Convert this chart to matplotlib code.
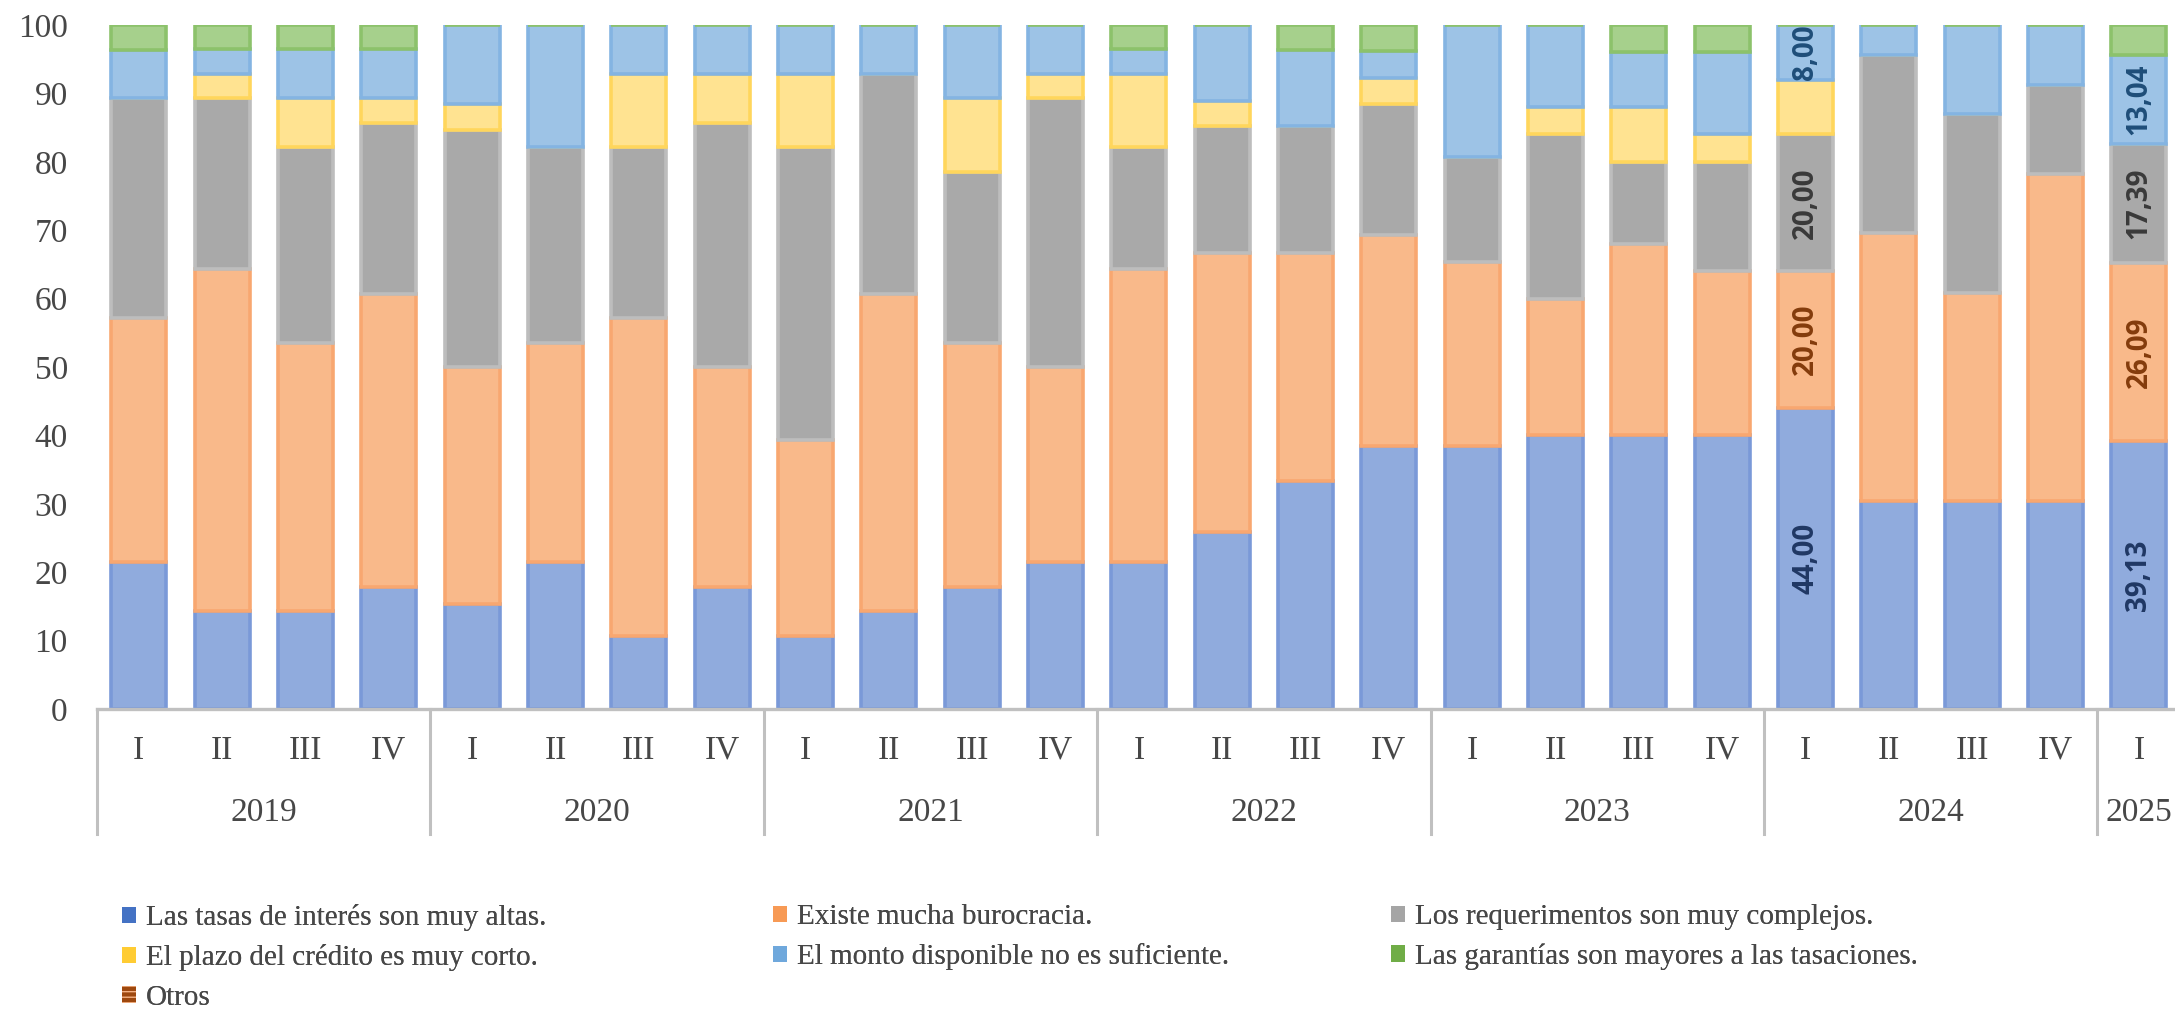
# %% stacked bars: reasons firms give for not asking for credit
import numpy as np
import matplotlib.pyplot as plt
from matplotlib.patches import Patch
from matplotlib.transforms import blended_transform_factory

# %% data (percent of answers per quarter)
years = ["2019", "2020", "2021", "2022", "2023", "2024", "2025"]
year_counts = [4, 4, 4, 4, 4, 4, 1]
quarters = ["I", "II", "III", "IV"] * 6 + ["I"]

tasas = [21.43, 14.29, 14.29, 17.86, 15.38, 21.43, 10.71, 17.86, 10.71, 14.29, 17.86, 21.43, 21.43,
         25.93, 33.33, 38.46, 38.46, 40.00, 40.00, 40.00, 44.00, 30.43, 30.43, 30.43, 39.13]
burocracia = [35.71, 50.00, 39.29, 42.86, 34.62, 32.14, 46.43, 32.14, 28.57, 46.43, 35.71, 28.57, 42.86,
              40.74, 33.33, 30.77, 26.92, 20.00, 28.00, 24.00, 20.00, 39.13, 30.43, 47.83, 26.09]
requerimientos = [32.14, 25.00, 28.57, 25.00, 34.62, 28.57, 25.00, 35.71, 42.86, 32.14, 25.00, 39.29, 17.86,
                  18.52, 18.52, 19.23, 15.38, 24.00, 12.00, 16.00, 20.00, 26.09, 26.09, 13.04, 17.39]
plazo = [0, 3.57, 7.14, 3.57, 3.85, 0, 10.71, 7.14, 10.71, 0, 10.71, 3.57, 10.71,
         3.70, 0, 3.85, 0, 4.00, 8.00, 4.00, 8.00, 0, 0, 0, 0]
monto = [7.14, 3.57, 7.14, 7.14, 11.54, 17.86, 7.14, 7.14, 7.14, 7.14, 10.71, 7.14, 3.57,
         11.11, 11.11, 3.85, 19.23, 12.00, 8.00, 12.00, 8.00, 4.35, 13.04, 8.70, 13.04]
garantias = [3.57, 3.57, 3.57, 3.57, 0, 0, 0, 0, 0, 0, 0, 0, 3.57,
             0, 3.70, 3.85, 0, 0, 4.00, 4.00, 0, 0, 0, 0, 4.35]
otros = [0] * 25

labels = ["Las tasas de interés son muy altas.", "Existe mucha burocracia.",
          "Los requerimentos son muy complejos.", "El plazo del crédito es muy corto.",
          "El monto disponible no es suficiente.", "Las garantías son mayores a las tasaciones.", "Otros"]
labelled_bars = [20, 24]  # only these quarters carry value labels

# %% style
faces = ["#90ABDD", "#F9B98A", "#A9A9A9", "#FFE391", "#9DC3E6", "#A6D08C"]
edges = ["#7A99D8", "#F8A770", "#BDBDBD", "#FFD65C", "#84B4E2", "#8CC26B"]
legend_cols = ["#4472C4", "#F79A55", "#A5A5A5", "#FFCC33", "#6FA8DC", "#70AD47"]
text_cols = ["#203864", "#843C0C", "#3A3A3A", None, "#1F4E79", None]
serif = "Liberation Serif"
grey_txt = "#474747"
axis_col = "#C0C0C0"

fig = plt.figure(figsize=(21.75, 10.09), dpi=100)
ax = fig.add_axes([0.0446, 0.2973, 0.958, 0.6779])

series = [tasas, burocracia, requerimientos, plazo, monto, garantias]
x = np.arange(len(quarters))
bottom = np.zeros(len(x))
for i, vals in enumerate(series):
    vals = np.array(vals, dtype=float)
    bars = ax.bar(x, vals, 0.66, bottom=bottom, color=faces[i], edgecolor=edges[i], linewidth=2.6, zorder=2)
    if text_cols[i] is not None:
        txt = [f"{v:.2f}".replace(".", ",") if j in labelled_bars else "" for j, v in enumerate(vals)]
        ax.bar_label(bars, labels=txt, label_type="center", rotation=90, color=text_cols[i],
                     fontsize=20, fontweight="bold", family="Open Sans")
    bottom += vals
ax.bar(x, otros, 0.66, bottom=bottom, color="#9E480E", linewidth=0)

ax.set_xlim(-0.5, len(x) - 0.5)
ax.set_ylim(0, 100)
ax.set_yticks(np.arange(0, 101, 10))
ax.tick_params(axis="y", length=0, pad=21, labelsize=24, labelcolor=grey_txt)
for t in ax.get_yticklabels():
    t.set_family(serif)
ax.set_xticks([])
for s in ["top", "right", "left"]:
    ax.spines[s].set_visible(False)
ax.spines["bottom"].set_color(axis_col)
ax.spines["bottom"].set_linewidth(2.4)

# %% two level category axis
tr = blended_transform_factory(ax.transData, ax.transAxes)
for xi, q in zip(x, quarters):
    ax.text(xi, -0.061, q, transform=tr, ha="center", va="center", fontsize=24, family=serif, color=grey_txt)
edges_x = np.concatenate([[0], np.cumsum(year_counts)]) - 0.5
for e in edges_x:
    ax.plot([e, e], [0, -0.182], transform=tr, color=axis_col, lw=2.2, clip_on=False)
for y, a, b in zip(years, edges_x[:-1], edges_x[1:]):
    ax.text((a + b) / 2, -0.152, y, transform=tr, ha="center", va="center", fontsize=24, family=serif, color=grey_txt)

# %% legend, one block per column like the original
handles = [Patch(facecolor=c, edgecolor="none") for c in legend_cols]
handles.append(Patch(facecolor="#9E480E", edgecolor="#F4B183", hatch="---", linewidth=0))
columns = [[0, 3, 6], [1, 4], [2, 5]]
col_x = [0.0561, 0.3554, 0.6395]
for cols, cx in zip(columns, col_x):
    leg = fig.legend([handles[k] for k in cols], [labels[k] for k in cols], loc="upper left",
                     bbox_to_anchor=(cx, 0.104), frameon=False, borderpad=0, borderaxespad=0,
                     handlelength=0.48, handleheight=0.48, handletextpad=0.33, labelspacing=0.46,
                     prop={"family": serif, "size": 21})
    for t in leg.get_texts():
        t.set_color(grey_txt)
    fig.add_artist(leg)

fig.savefig("out.png", dpi=100)
